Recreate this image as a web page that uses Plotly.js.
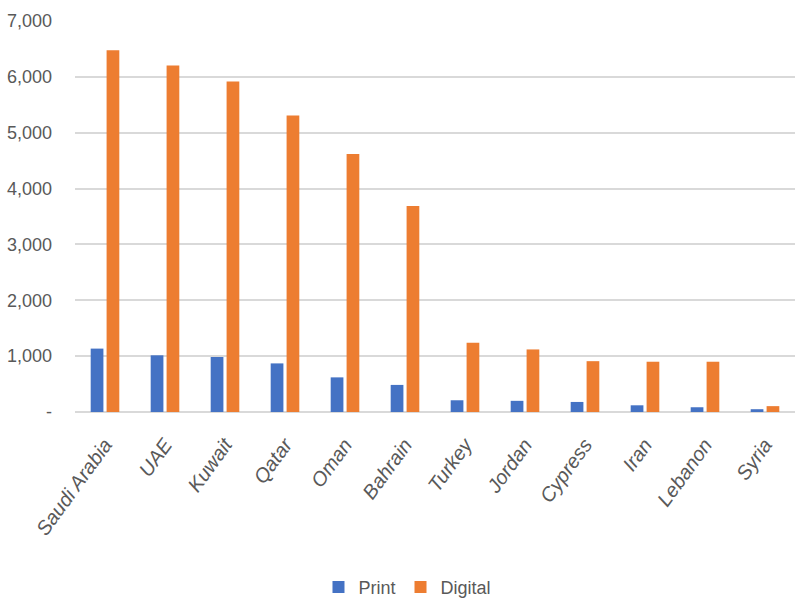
<!DOCTYPE html>
<html>
<head>
<meta charset="utf-8">
<script src="https://cdn.plot.ly/plotly-3.0.1.min.js"></script>
<style>
  html, body { margin: 0; padding: 0; background: #ffffff; }
  #chart { width: 799px; height: 601px; }
</style>
</head>
<body>
<div id="chart"></div>
<script>
// Countries along the category axis
const countries = ["Saudi Arabia", "UAE", "Kuwait", "Qatar", "Oman", "Bahrain",
                   "Turkey", "Jordan", "Cypress", "Iran", "Lebanon", "Syria"];

// Print and digital figures per country
const printValues   = [1135, 1015, 985, 870, 620, 485, 210, 200, 180, 120, 85, 50];
const digitalValues = [6475, 6205, 5915, 5310, 4620, 3690, 1240, 1120, 910, 900, 900, 105];

// Value axis ticks (zero shown as a dash)
const yTickValues = [0, 1000, 2000, 3000, 4000, 5000, 6000, 7000];
const yTickLabels = ["-", "1,000", "2,000", "3,000", "4,000", "5,000", "6,000", "7,000"];

const sans = "Liberation Sans, Arial, sans-serif";
const textGrey = "#595959";
const gridGrey = "#d9d9d9";

const traces = [
  {
    type: "bar",
    name: "Print",
    x: countries,
    y: printValues,
    marker: { color: "#4472C4" },
    hoverinfo: "x+y+name"
  },
  {
    type: "bar",
    name: "Digital",
    x: countries,
    y: digitalValues,
    marker: { color: "#ED7D31" },
    hoverinfo: "x+y+name"
  }
];

const layout = {
  width: 799,
  height: 601,
  paper_bgcolor: "#ffffff",
  plot_bgcolor: "#ffffff",
  margin: { l: 75, r: 4, t: 21, b: 189 },
  barmode: "group",
  bargap: 0.47,
  bargroupgap: 0.2,
  font: { family: sans, color: textGrey, size: 18 },
  xaxis: {
    type: "category",
    tickangle: -54,
    tickfont: { family: sans, size: 20, color: textGrey, style: "italic" },
    ticks: "",
    ticklabelstandoff: 16,
    showgrid: false,
    showline: false,
    zeroline: false
  },
  yaxis: {
    range: [0, 7000],
    tickvals: yTickValues,
    ticktext: yTickLabels,
    tickfont: { family: sans, size: 18, color: textGrey },
    ticks: "",
    ticklabelstandoff: 22,
    showgrid: true,
    gridcolor: gridGrey,
    gridwidth: 2,
    zeroline: true,
    zerolinecolor: gridGrey,
    zerolinewidth: 2,
    showline: false
  },
  showlegend: true,
  legend: {
    orientation: "h",
    x: 0.51,
    xanchor: "center",
    xref: "container",
    y: 0.023,
    yanchor: "middle",
    yref: "container",
    font: { family: sans, size: 18, color: textGrey },
    itemwidth: 30,
    traceorder: "normal"
  }
};

Plotly.newPlot("chart", traces, layout, { displayModeBar: false, staticPlot: true });
</script>
</body>
</html>
